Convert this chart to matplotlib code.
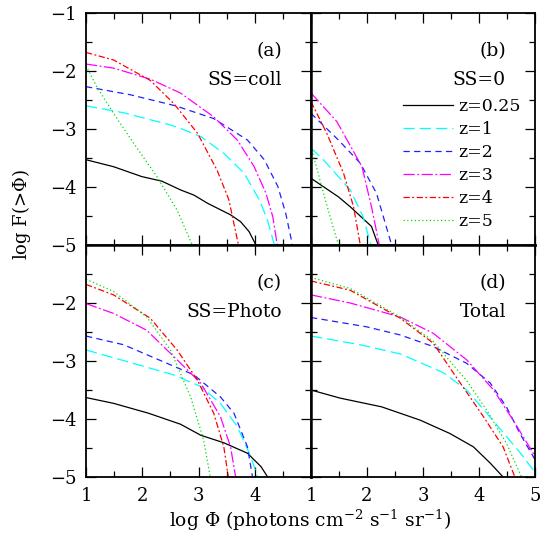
import numpy as np
import matplotlib
matplotlib.use("Agg")
import matplotlib.pyplot as plt
from matplotlib.ticker import MultipleLocator, FixedLocator

plt.rcParams['font.family'] = ['DejaVu Serif']
plt.rcParams['mathtext.fontset'] = 'dejavuserif'

#%% Cumulative flux distributions, log F(>Phi) vs log Phi, per redshift

redshifts = ['z=0.25', 'z=1', 'z=2', 'z=3', 'z=4', 'z=5']

## panel (a) SS=coll
a_x = [
    [1.0, 1.49, 1.99, 2.35, 2.68, 2.92, 3.16, 3.57, 3.75, 3.90, 4.02],
    [1.0, 1.67, 2.5, 2.68, 3.04, 3.45, 3.81, 4.08, 4.22, 4.35],
    [1.0, 1.79, 2.59, 3.27, 3.87, 4.17, 4.41, 4.55, 4.67],
    [1.0, 1.49, 2.14, 2.68, 3.27, 3.69, 3.99, 4.20, 4.32, 4.40],
    [1.0, 1.49, 2.14, 2.56, 2.98, 3.33, 3.54, 3.71],
    [1.0, 1.19, 1.49, 1.85, 2.26, 2.62, 2.89],
]
a_y = [
    [-3.53, -3.65, -3.82, -3.90, -4.05, -4.14, -4.28, -4.48, -4.60, -4.77, -5.0],
    [-2.60, -2.72, -2.93, -2.99, -3.13, -3.42, -3.76, -4.22, -4.55, -5.0],
    [-2.27, -2.41, -2.60, -2.82, -3.19, -3.53, -3.99, -4.45, -5.0],
    [-1.88, -1.95, -2.14, -2.38, -2.79, -3.19, -3.65, -4.11, -4.51, -5.0],
    [-1.68, -1.81, -2.16, -2.56, -3.07, -3.71, -4.22, -5.0],
    [-1.91, -2.27, -2.73, -3.25, -3.82, -4.40, -5.0],
]

## panel (b) SS=0
b_x = [
    [1.0, 1.49, 1.70, 2.08, 2.20],
    [1.0, 1.22, 1.70, 1.93, 2.07],
    [1.0, 1.49, 1.88, 2.17, 2.44],
    [1.0, 1.46, 1.91, 2.08, 2.22],
    [1.0, 1.28, 1.58, 1.76, 1.88],
    [1.0, 1.19, 1.34, 1.49],
]
b_y = [
    [-3.85, -4.17, -4.34, -4.68, -5.0],
    [-3.33, -3.53, -4.05, -4.51, -5.0],
    [-2.73, -3.19, -3.59, -4.11, -5.0],
    [-2.38, -2.87, -3.65, -4.34, -5.0],
    [-2.53, -3.07, -3.76, -4.34, -5.0],
    [-3.30, -3.99, -4.51, -5.0],
]

## panel (c) SS=Photo
c_x = [
    [1.0, 1.49, 2.11, 2.68, 3.04, 3.45, 3.87, 4.11, 4.23],
    [1.0, 1.73, 2.56, 3.04, 3.39, 3.69, 3.93, 4.05],
    [1.0, 1.67, 2.44, 2.92, 3.39, 3.63, 3.87, 3.96],
    [1.0, 1.49, 2.08, 2.62, 3.04, 3.39, 3.57, 3.66],
    [1.0, 1.49, 2.14, 2.62, 2.98, 3.27, 3.45, 3.53],
    [1.0, 1.49, 2.08, 2.5, 2.86, 3.09, 3.21],
]
c_y = [
    [-3.63, -3.73, -3.90, -4.09, -4.28, -4.41, -4.59, -4.82, -5.0],
    [-2.81, -3.01, -3.24, -3.44, -3.73, -4.13, -4.65, -5.0],
    [-2.57, -2.72, -3.04, -3.24, -3.62, -3.90, -4.48, -5.0],
    [-2.01, -2.18, -2.47, -2.98, -3.38, -3.96, -4.48, -5.0],
    [-1.68, -1.86, -2.26, -2.81, -3.33, -3.90, -4.48, -5.0],
    [-1.59, -1.80, -2.24, -2.81, -3.62, -4.36, -5.0],
]

## panel (d) Total
d_x = [
    [1.0, 1.52, 2.26, 2.59, 2.95, 3.48, 3.90, 4.20, 4.43],
    [1.0, 1.88, 2.6, 3.36, 3.78, 4.14, 4.49, 4.75, 5.0],
    [1.0, 1.99, 2.59, 3.18, 3.78, 4.20, 4.49, 4.73, 5.0],
    [1.0, 1.70, 2.59, 3.18, 3.78, 4.26, 4.61, 5.0],
    [1.0, 1.70, 2.59, 3.18, 3.63, 4.08, 4.43, 4.64],
    [1.0, 1.70, 2.59, 3.18, 3.78, 4.14, 4.49, 4.76],
]
d_y = [
    [-3.50, -3.64, -3.79, -3.90, -4.02, -4.25, -4.48, -4.76, -5.0],
    [-2.57, -2.72, -2.88, -3.20, -3.50, -3.90, -4.30, -4.60, -4.92],
    [-2.25, -2.41, -2.55, -2.75, -3.04, -3.38, -3.79, -4.25, -4.70],
    [-1.86, -2.00, -2.24, -2.52, -2.98, -3.50, -4.02, -4.64],
    [-1.62, -1.78, -2.26, -2.69, -3.33, -3.96, -4.48, -5.0],
    [-1.56, -1.75, -2.24, -2.66, -3.34, -3.85, -4.42, -5.0],
]

panel_tags = ['(a)', '(b)', '(c)', '(d)']
panel_names = ['SS=coll', 'SS=0', 'SS=Photo', 'Total']

colors = ['black', 'cyan', '#2020ff', 'magenta', 'red', '#00dd00']
styles = ['-', (0, (9, 4)), (0, (5, 3.5)), (0, (9, 2, 1.5, 2)), (0, (5, 2, 1.5, 2)), (0, (1, 2))]

#%% Figure

fig = plt.figure(figsize=(5.41, 5.36), dpi=100)
L, M, R = 86/541, 311/541, 535/541
T, H, B = 1 - 13/536, 1 - 245/536, 1 - 477/536
boxes = [[L, H, M-L, T-H], [M, H, R-M, T-H], [L, B, M-L, H-B], [M, B, R-M, H-B]]

data_x = [a_x, b_x, c_x, d_x]
data_y = [a_y, b_y, c_y, d_y]

## which spines sit on the inner cross (drawn heavier)
inner = [('right', 'bottom'), ('left', 'bottom'), ('right', 'top'), ('left', 'top')]

for k in range(4):
    ax = fig.add_axes(boxes[k])
    for j in range(6):
        ax.plot(data_x[k][j], data_y[k][j], color=colors[j], linestyle=styles[j],
                lw=0.9, label=redshifts[j])
    ax.set_xlim(1, 5)
    ax.set_ylim(-5, -1)
    ax.xaxis.set_minor_locator(MultipleLocator(0.5))
    ax.yaxis.set_minor_locator(MultipleLocator(0.5))
    ax.tick_params(which='both', direction='in', top=True, right=True, labelsize=13, width=0.9)
    ax.tick_params(which='major', length=7, pad=7)
    ax.tick_params(which='minor', length=4)
    for name, s in ax.spines.items():
        s.set_linewidth(1.8 if name in inner[k] else 1.3)

    ## only outer panels carry tick labels
    if k in (0, 2):
        ax.yaxis.set_major_locator(FixedLocator([-1, -2, -3, -4, -5] if k == 0 else [-2, -3, -4, -5]))
        ax.set_yticklabels(['\u22121', '\u22122', '\u22123', '\u22124', '\u22125'] if k == 0
                           else ['\u22122', '\u22123', '\u22124', '\u22125'])
    else:
        ax.set_yticklabels([])
        ax.yaxis.set_major_locator(MultipleLocator(1))
    if k == 2:
        ax.xaxis.set_major_locator(FixedLocator([1, 2, 3, 4, 5]))
        ax.set_xticklabels(['1', '2', '3', '4', ''])
    elif k == 3:
        ax.xaxis.set_major_locator(MultipleLocator(1))
    else:
        ax.set_xticklabels([])
        ax.xaxis.set_major_locator(MultipleLocator(1))

    ax.text(0.87, 0.835, panel_tags[k], transform=ax.transAxes, ha='right', va='center', fontsize=13.5)
    ax.text(0.87, 0.71, panel_names[k], transform=ax.transAxes, ha='right', va='center', fontsize=13.5)

    if k == 1:
        ax.legend(loc='upper right', bbox_to_anchor=(0.975, 0.67), frameon=False, fontsize=12.5,
                  handlelength=2.9, handletextpad=0.3, labelspacing=0.34, borderpad=0.0)

fig.text(0.04, 0.6, r'log F(>$\Phi$)', rotation=90, ha='center', va='center', fontsize=13)
fig.text((L + R) / 2, 0.03, r'log $\Phi$ (photons cm$^{-2}$ s$^{-1}$ sr$^{-1}$)',
         ha='center', va='center', fontsize=13.5)

fig.savefig('out.png', dpi=100)
